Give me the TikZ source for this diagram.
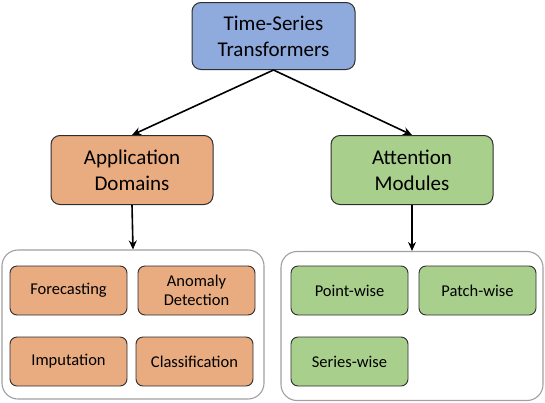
\documentclass[tikz,border=0pt]{standalone}
\usepackage{fontspec}
\setmainfont{Carlito}
\usetikzlibrary{arrows.meta}
\definecolor{cblue}{HTML}{8FAADC}
\definecolor{corange}{HTML}{E9AB80}
\definecolor{cgreen}{HTML}{A9CF8C}
\definecolor{cborder}{HTML}{2E2E2E}
\definecolor{cgrp}{HTML}{A0A0A0}
\tikzset{
  bigbox/.style={draw=cborder, line width=1pt, rounded corners=9pt, minimum width=162pt, minimum height=69pt, align=center, font=\fontsize{21}{26}\selectfont, inner sep=0pt},
  smallbox/.style={draw=cborder, line width=0.9pt, rounded corners=7pt, minimum width=117pt, minimum height=49pt, align=center, font=\fontsize{16.5}{19.5}\selectfont, inner sep=0pt},
  grp/.style={draw=cgrp, line width=1.1pt, rounded corners=16pt, minimum width=262pt, minimum height=149pt, inner sep=0pt},
  arr/.style={line width=1.6pt, -{Stealth[length=9pt,width=8pt]}}
}
\begin{document}
\begin{tikzpicture}[x=1pt,y=-1pt]
\useasboundingbox (0,0) rectangle (545,402);
\node[bigbox, fill=cblue, minimum width=163pt, minimum height=67pt] (top) at (273.5,36) {Time-Series\\Transformers};
\node[bigbox, fill=corange] (app) at (132,170) {Application\\Domains};
\node[bigbox, fill=cgreen] (att) at (412,170) {Attention\\Modules};
\node[grp] (lgrp) at (133,324.5) {};
\node[grp] (rgrp) at (412,326) {};
\node[smallbox, fill=corange] (fore) at (68.5,290.5) {Forecasting};
\node[smallbox, fill=corange] (anom) at (196.5,290.5) {Anomaly\\Detection};
\node[smallbox, fill=corange] (imp) at (68.5,361.5) {Imputation};
\node[smallbox, fill=corange] (cls) at (194.5,361.5) {Classification};
\node[smallbox, fill=cgreen] (point) at (349.5,290.5) {Point-wise};
\node[smallbox, fill=cgreen] (patch) at (477.5,290.5) {Patch-wise};
\node[smallbox, fill=cgreen] (series) at (349.5,361.5) {Series-wise};
\draw[arr] (top.south) -- (app.north);
\draw[arr] (top.south) -- (att.north);
\draw[arr] (app.south) -- (lgrp.north);
\draw[arr] (att.south) -- (rgrp.north);
\end{tikzpicture}
\end{document}
